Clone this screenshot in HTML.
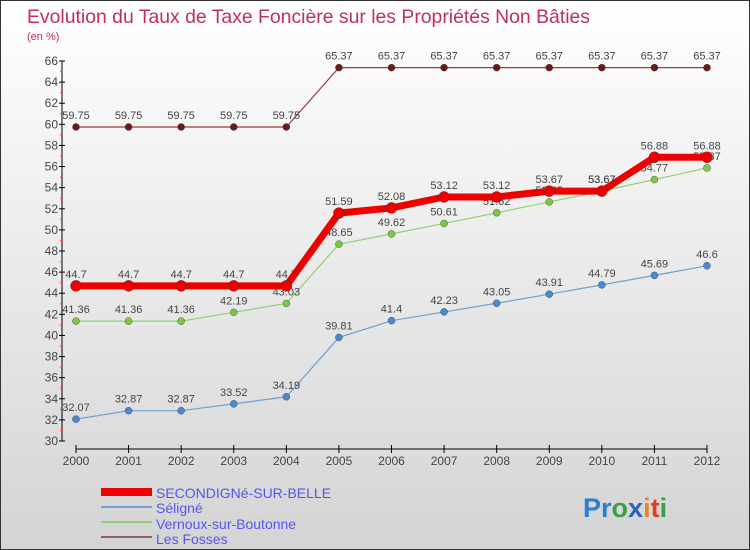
<!DOCTYPE html>
<html><head><meta charset="utf-8"><style>
html,body{margin:0;padding:0}
body{width:750px;height:550px;overflow:hidden;font-family:"Liberation Sans",sans-serif}
#wrap{position:relative;width:748px;height:548px;border:1px solid #333;background:linear-gradient(#ffffff,#d4d4d4)}
</style></head><body>
<div id="wrap">
<svg id="chart" width="748" height="548" style="position:absolute;left:0;top:0">
<text x="26" y="22" font-size="19.4" fill="#c0305a">Evolution du Taux de Taxe Foncière sur les Propriétés Non Bâties</text>
<text x="26" y="39" font-size="11" fill="#c0305a">(en %)</text>
<g id="axes"></g><g id="series"></g>
<g>
<rect x="100" y="487" width="51" height="8" fill="#e00"/>
<text x="155" y="497" font-size="14" fill="#5555ee">SECONDIGNé-SUR-BELLE</text>
<rect x="100" y="505" width="51" height="2" fill="#6fa0d0"/>
<text x="155" y="512" font-size="14" fill="#5555ee">Séligné</text>
<rect x="100" y="520" width="51" height="2" fill="#90d070"/>
<text x="155" y="528" font-size="14" fill="#5555ee">Vernoux-sur-Boutonne</text>
<rect x="100" y="535" width="51" height="2" fill="#906060"/>
<text x="155" y="543" font-size="14" fill="#5555ee">Les Fosses</text>
</g>
<text x="582" y="516" font-size="27" font-weight="bold"><tspan fill="#2a7fd0">Pr</tspan><tspan fill="#3aa040">o</tspan><tspan fill="#2a60c0">x</tspan><tspan fill="#f08020">i</tspan><tspan fill="#e04020">t</tspan><tspan fill="#3aa040">i</tspan></text>
</svg>
</div>
<script>
const years=[2000,2001,2002,2003,2004,2005,2006,2007,2008,2009,2010,2011,2012];
const secondigne=[44.7,44.7,44.7,44.7,44.7,51.59,52.08,53.12,53.12,53.67,53.67,56.88,56.88];
const seligne=[32.07,32.87,32.87,33.52,34.19,39.81,41.4,42.23,43.05,43.91,44.79,45.69,46.6];
const vernoux=[41.36,41.36,41.36,42.19,43.03,48.65,49.62,50.61,51.62,52.65,53.67,54.77,55.87];
const fosses=[59.75,59.75,59.75,59.75,59.75,65.37,65.37,65.37,65.37,65.37,65.37,65.37,65.37];
const yTicks=[30,32,34,36,38,40,42,44,46,48,50,52,54,56,58,60,62,64,66];
const NS="http://www.w3.org/2000/svg";
const x0=75,x1=706,yMin=30,yMax=66,yTop=60,yBot=440;
const xs=i=>x0+(x1-x0)*i/(years.length-1);
const ys=v=>yBot-(v-yMin)*(yBot-yTop)/(yMax-yMin);
function mk(t,a,p){const e=document.createElementNS(NS,t);for(const k in a)e.setAttribute(k,a[k]);p.appendChild(e);return e;}
const ax=document.getElementById('axes');
const ya=mk('line',{x1:61,y1:yTop,x2:61,y2:yBot,stroke:'#000'},ax);


yTicks.forEach(v=>{
 mk('line',{x1:58,x2:64,y1:ys(v),y2:ys(v),stroke:'#000'},ax);
 if(v<66) mk('line',{x1:59,x2:62,y1:ys(v+1),y2:ys(v+1),stroke:'#f44'},ax);
 const t=mk('text',{x:57,y:ys(v)+4,'font-size':12,'text-anchor':'end',fill:'#444'},ax);t.textContent=v;
 
 
});
const xa=mk('line',{x1:x0,y1:448,x2:x1,y2:448,stroke:'#000'},ax);


years.forEach((y,i)=>{
 mk('line',{x1:xs(i),x2:xs(i),y1:444,y2:452,stroke:'#000'},ax);
 const t=mk('text',{x:xs(i),y:464,'font-size':12,'text-anchor':'middle',fill:'#444'},ax);t.textContent=y;
 
 
});
const sg=document.getElementById('series');
function series(name,data,color,w,dot,r){
 const g=mk('g',{},sg);
 
 
 mk('polyline',{points:data.map((v,i)=>xs(i)+','+ys(v)).join(' '),fill:'none',stroke:color,'stroke-width':w},g);
 data.forEach((v,i)=>{
  const c=mk('circle',{cx:xs(i),cy:ys(v),r:r,fill:dot,stroke:'#333','stroke-width':0.4},g);
  
  
  const t=mk('text',{x:xs(i),y:ys(v)-8,'font-size':11,'text-anchor':'middle',fill:'#444'},g);
  t.textContent=v;
  
  
 });
}
series('les-fosses',fosses,'#904040',1.2,'#6a1a1a',3.5);
series('seligne',seligne,'#6fa0d0',1.2,'#4a8ad0',3.5);
series('vernoux',vernoux,'#90d070',1.2,'#7cc840',3.5);
series('secondigne',secondigne,'#ee0000',7,'#ee0000',5.5);
</script>
</body></html>
